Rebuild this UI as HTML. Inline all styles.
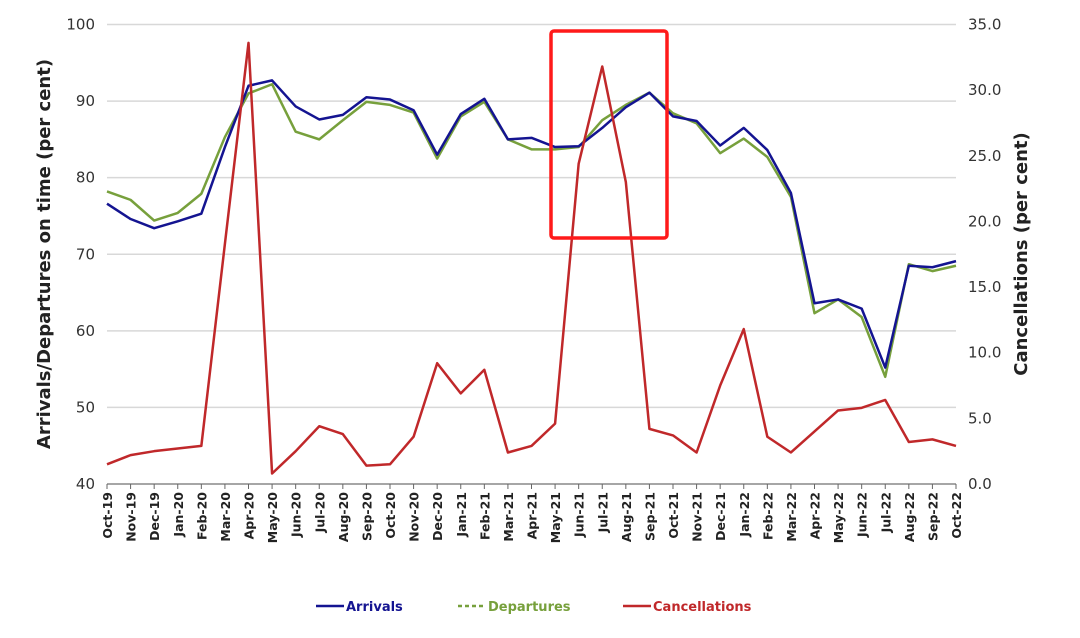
<!DOCTYPE html>
<html><head><meta charset="utf-8"><style>
body{margin:0;background:#fff;font-family:"Liberation Sans","DejaVu Sans",sans-serif}
svg text{font-family:"DejaVu Sans","Liberation Sans",sans-serif}
</style></head><body>
<svg id="c" width="1080" height="633"></svg>
<script>
const categories=["Oct-19","Nov-19","Dec-19","Jan-20","Feb-20","Mar-20","Apr-20","May-20","Jun-20","Jul-20","Aug-20","Sep-20","Oct-20","Nov-20","Dec-20","Jan-21","Feb-21","Mar-21","Apr-21","May-21","Jun-21","Jul-21","Aug-21","Sep-21","Oct-21","Nov-21","Dec-21","Jan-22","Feb-22","Mar-22","Apr-22","May-22","Jun-22","Jul-22","Aug-22","Sep-22","Oct-22"];
const arrivals=[76.6,74.6,73.4,74.3,75.3,84,92,92.7,89.3,87.6,88.2,90.5,90.2,88.8,83,88.3,90.3,85,85.2,84,84.1,86.5,89.2,91.1,88,87.4,84.2,86.5,83.6,78,63.6,64.1,62.9,55.2,68.5,68.3,69.1];
const departures=[78.2,77.1,74.4,75.4,77.9,85.3,91,92.2,86,85,87.5,89.9,89.5,88.5,82.5,88,89.9,85,83.7,83.7,84,87.5,89.5,91.1,88.4,87.1,83.2,85.1,82.7,77.5,62.3,64.1,61.8,54,68.7,67.8,68.5];
const cancellations=[1.5,2.2,2.5,2.7,2.9,18.3,33.6,0.8,2.5,4.4,3.8,1.4,1.5,3.6,9.2,6.9,8.7,2.4,2.9,4.6,24.4,31.8,23.0,4.2,3.7,2.4,7.5,11.8,3.6,2.4,4.0,5.6,5.8,6.4,3.2,3.4,2.9];
const leftTicks=[40,50,60,70,80,90,100];
const rightTicks=["0.0","5.0","10.0","15.0","20.0","25.0","30.0","35.0"];
const NS="http://www.w3.org/2000/svg",svg=document.getElementById('c');
const X0=107,X1=956,YT=24.5,YB=484;
const x=i=>X0+i*(X1-X0)/(categories.length-1);
const yL=v=>YB-(v-40)/60*(YB-YT);
const yR=v=>YB-v/35*(YB-YT);
function el(t,a,p){const e=document.createElementNS(NS,t);for(const k in a)e.setAttribute(k,a[k]);(p||svg).appendChild(e);return e;}
leftTicks.forEach(v=>{
 const g=el('line',{x1:X0,x2:X1,y1:yL(v),y2:yL(v),stroke:v==40?'#888':'#d8d8d8','stroke-width':v==40?1.5:1.5});
 
 
 const t=el('text',{x:95,y:yL(v)+5,'text-anchor':'end','font-size':15,fill:'#333'});t.textContent=v;
 
 
});
rightTicks.forEach(s=>{
 const t=el('text',{x:968,y:yR(parseFloat(s))+5,'font-size':15,fill:'#333'});t.textContent=s;
 
 
});
categories.forEach((c,i)=>{
 el('line',{x1:x(i),x2:x(i),y1:YB,y2:YB+5,stroke:'#666'});
 const t=el('text',{transform:`translate(${x(i)+5},${YB+8}) rotate(-90)`,'text-anchor':'end','font-size':12.5,'font-weight':'bold',fill:'#222'});t.textContent=c;
 
 
});
function line(arr,fy,col,name){
 const p=el('polyline',{points:arr.map((v,i)=>x(i)+','+fy(v)).join(' '),fill:'none',stroke:col,'stroke-width':2.5,'stroke-linejoin':'round'});
 
 
}
line(departures,yL,'#77a03c','departures-line');
line(arrivals,yL,'#141491','arrivals-line');
line(cancellations,yR,'#c0282a','cancellations-line');
const r=el('rect',{x:551,y:31,width:116,height:207,rx:3,fill:'none',stroke:'#ff1a1a','stroke-width':3.5});


let t=el('text',{transform:'translate(50,254) rotate(-90)','text-anchor':'middle','font-size':18,'font-weight':'bold',fill:'#222'});t.textContent='Arrivals/Departures on time (per cent)';


t=el('text',{transform:'translate(1027,254) rotate(-90)','text-anchor':'middle','font-size':18,'font-weight':'bold',fill:'#222'});t.textContent='Cancellations (per cent)';


[["Arrivals",316,'#141491',''],["Departures",458,'#77a03c','4 3'],["Cancellations",623,'#c0282a','']].forEach(([n,lx,c,d])=>{
 const g=el('g',{});
 
 
 el('line',{x1:lx,x2:lx+28,y1:606,y2:606,stroke:c,'stroke-width':2.5,'stroke-dasharray':d},g);
 const tt=el('text',{x:lx+30,y:611,'font-size':13,'font-weight':'bold',fill:c},g);tt.textContent=n;
});
</script>
</body></html>
